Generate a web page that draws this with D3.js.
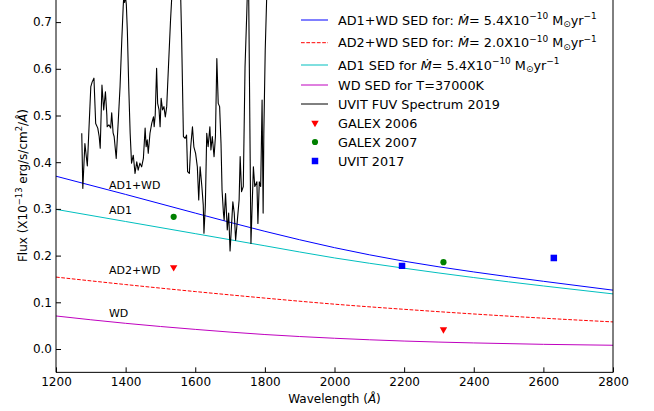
<!DOCTYPE html>
<html>
<head>
<meta charset="utf-8">
<script src="https://cdn.jsdelivr.net/npm/d3@7"></script>
<style>
  html, body { margin: 0; padding: 0; background: #fff; }
  svg { display: block; font-family: "DejaVu Sans", sans-serif; }
</style>
</head>
<body>
<svg id="chart" width="654" height="411"></svg>
<script>
// ---------------- DATA ----------------
const modelWave = [1200, 1400, 1600, 1800, 2000, 2200, 2400, 2600, 2800];
const ad1wdFlux = [0.370, 0.331, 0.291, 0.252, 0.217, 0.188, 0.165, 0.145, 0.126];
const ad2wdFlux = [0.154, 0.138, 0.123, 0.109, 0.096, 0.085, 0.075, 0.066, 0.058];
const ad1Flux   = [0.299, 0.273, 0.247, 0.221, 0.195, 0.173, 0.153, 0.135, 0.118];
const wdFlux    = [0.0707, 0.055, 0.042, 0.031, 0.023, 0.017, 0.013, 0.010, 0.008];

const specWave = [1274,1277,1283,1290,1300,1304,1309,1314,1320,1324,1327,1332,1337,1342,1346,1347,1352,1357,1360,1364,1367,1373,1379,1384,1389,1393,1395,1397,1399,1402,1405,1409,1413,1417,1422,1427,1432,1436,1441,1446,1451,1456,1459,1462,1465,1470,1475,1480,1482,1485,1489,1492,1496,1499,1502,1506,1510,1514,1518,1523,1529,1533,1545,1558,1561,1566,1571,1575,1578,1583,1587,1592,1596,1601,1606,1610,1614,1619,1623,1625,1629,1633,1637,1642,1645,1649,1654,1658,1662,1666,1670,1674,1677,1681,1683,1687,1692,1696,1700,1704,1708,1712,1716,1721,1726,1729,1733,1738,1743,1748,1751,1753,1760,1767,1771,1777,1780,1784,1788,1792,1795,1797,1801,1805,1808];
const specFlux = [0.462,0.344,0.440,0.392,0.562,0.572,0.580,0.483,0.473,0.455,0.430,0.565,0.512,0.551,0.501,0.476,0.480,0.473,0.506,0.463,0.455,0.408,0.490,0.562,0.662,0.733,0.760,0.742,0.758,0.738,0.680,0.560,0.462,0.398,0.415,0.376,0.401,0.383,0.398,0.390,0.408,0.473,0.433,0.448,0.419,0.462,0.483,0.497,0.476,0.501,0.601,0.526,0.512,0.476,0.537,0.512,0.519,0.497,0.519,0.604,0.704,0.760,0.950,0.760,0.662,0.455,0.451,0.458,0.380,0.376,0.433,0.476,0.433,0.419,0.390,0.319,0.390,0.348,0.308,0.248,0.308,0.462,0.433,0.476,0.426,0.455,0.412,0.455,0.622,0.526,0.519,0.440,0.340,0.291,0.276,0.333,0.255,0.291,0.210,0.262,0.315,0.291,0.233,0.276,0.319,0.412,0.337,0.348,0.604,0.719,0.800,0.800,0.226,0.390,0.348,0.358,0.269,0.358,0.348,0.533,0.291,0.462,0.640,0.747,0.800];

const galex2006Wave = [1538, 2313];
const galex2006Flux = [0.175, 0.042];
const galex2007Wave = [1538, 2313];
const galex2007Flux = [0.283, 0.186];
const uvit2017Wave  = [2194, 2630];
const uvit2017Flux  = [0.178, 0.195];

const xTicks = [1200, 1400, 1600, 1800, 2000, 2200, 2400, 2600, 2800];
const yTicks = [0.0, 0.1, 0.2, 0.3, 0.4, 0.5, 0.6, 0.7];

const curveLabels = ["AD1+WD", "AD1", "AD2+WD", "WD"];
const curveLabelWave = [1352, 1352, 1352, 1352];
const curveLabelFlux = [0.343, 0.289, 0.160, 0.068];

// ---------------- LAYOUT ----------------
const svg = d3.select("#chart");
const L = 56, R = 613, B = 372.35, T = -1.25;
const x = d3.scaleLinear().domain([1200, 2800]).range([L, R]);
const y = d3.scaleLinear().domain([-0.05, 0.75]).range([B, T]);

svg.append("defs").append("clipPath").attr("id", "clip")
  .append("rect").attr("x", L).attr("y", -5).attr("width", R - L).attr("height", B + 5);

const plot = svg.append("g").attr("clip-path", "url(#clip)");

const line = d3.line().x(d => x(d[0])).y(d => y(d[1]));
const smooth = d3.line().x(d => x(d[0])).y(d => y(d[1])).curve(d3.curveMonotoneX);

const series = [
  {vals: ad1wdFlux, color: "#0000ff", dash: null},
  {vals: ad2wdFlux, color: "#ff0000", dash: "3.7,1.6"},
  {vals: ad1Flux,   color: "#00bfbf", dash: null},
  {vals: wdFlux,    color: "#bf00bf", dash: null}
];
series.forEach(s => {
  plot.append("path")
    .datum(modelWave.map((w, i) => [w, s.vals[i]]))
    .attr("d", smooth)
    .attr("fill", "none")
    .attr("stroke", s.color)
    .attr("stroke-width", 1)
    .attr("stroke-dasharray", s.dash);
});

plot.append("path")
  .datum(specWave.map((w, i) => [w, specFlux[i]]))
  .attr("d", line)
  .attr("fill", "none")
  .attr("stroke", "#000")
  .attr("stroke-width", 1.1)
  .attr("stroke-linejoin", "round");

// markers
const triDown = d3.symbol().type(d3.symbolTriangle).size(24);
const circ = d3.symbol().type(d3.symbolCircle).size(30);
const sq = d3.symbol().type(d3.symbolSquare).size(42);

galex2006Wave.forEach((w, i) => {
  plot.append("path").attr("d", triDown())
    .attr("transform", `translate(${x(w)},${y(galex2006Flux[i])}) rotate(180)`)
    .attr("fill", "#ff0000");
});
galex2007Wave.forEach((w, i) => {
  plot.append("path").attr("d", circ())
    .attr("transform", `translate(${x(w)},${y(galex2007Flux[i])})`)
    .attr("fill", "#008000");
});
uvit2017Wave.forEach((w, i) => {
  plot.append("path").attr("d", sq())
    .attr("transform", `translate(${x(w)},${y(uvit2017Flux[i])})`)
    .attr("fill", "#0000ff");
});

// curve labels
curveLabels.forEach((t, i) => {
  svg.append("text").attr("x", x(curveLabelWave[i])).attr("y", y(curveLabelFlux[i]))
    .attr("font-size", 11).attr("fill", "#000").text(t);
});

// ---------------- AXES ----------------
const xAxis = d3.axisBottom(x).tickValues(xTicks).tickSize(-5).tickPadding(5).tickFormat(d3.format("d"));
const gx = svg.append("g").attr("transform", `translate(0,${B})`).call(xAxis);
gx.select(".domain").remove();
gx.selectAll("text").attr("font-size", 12).attr("font-family", "DejaVu Sans").attr("fill", "#000");
gx.selectAll("line").attr("stroke", "#000");

const yAxis = d3.axisLeft(y).tickValues(yTicks).tickSize(-5).tickPadding(4).tickFormat(d3.format(".1f"));
const gy = svg.append("g").attr("transform", `translate(${L},0)`).call(yAxis);
gy.select(".domain").remove();
gy.selectAll("text").attr("font-size", 12).attr("font-family", "DejaVu Sans").attr("fill", "#000");
gy.selectAll("line").attr("stroke", "#000");

// spines
svg.append("line").attr("x1", L).attr("x2", L).attr("y1", T - 2).attr("y2", B).attr("stroke", "#000").attr("stroke-width", 1);
svg.append("line").attr("x1", R).attr("x2", R).attr("y1", T - 2).attr("y2", B).attr("stroke", "#000").attr("stroke-width", 1);
svg.append("line").attr("x1", L).attr("x2", R).attr("y1", B).attr("y2", B).attr("stroke", "#000").attr("stroke-width", 1);

// rich text helper: shifts are carried over to the next visible tspan
function rich(sel, parts, fs) {
  let cur = 0;
  parts.forEach(p => {
    let target = 0, size = fs;
    if (p.sup) { target = -fs * 0.42; size = fs * 0.7; }
    else if (p.sub) { target = fs * 0.2; size = fs * 0.7; }
    const t = sel.append("tspan").attr("font-size", size).attr("dy", target - cur).text(p.t);
    if (p.it) t.attr("font-style", "italic");
    cur = target;
  });
}

// axis titles
const xl = svg.append("text").attr("x", (L + R) / 2).attr("y", 403).attr("text-anchor", "middle").attr("fill", "#000").attr("font-size", 12);
rich(xl, [{t: "Wavelength ("}, {t: "Å", it: true}, {t: ")"}], 12);

const yl = svg.append("text").attr("transform", `translate(27,${(B + T) / 2}) rotate(-90)`).attr("text-anchor", "middle").attr("fill", "#000").attr("font-size", 12);
rich(yl, [{t: "Flux (X10"}, {t: "\u221213", sup: true}, {t: " erg/s/cm"}, {t: "2", sup: true}, {t: "/"}, {t: "Å", it: true}, {t: ")"}], 12);

// ---------------- LEGEND ----------------
const legFs = 12.8;
const legRows = [
  {y: 20, type: "line", color: "#0000ff", parts: [{t: "AD1+WD SED for: "}, {t: "Ṁ", it: true}, {t: "= 5.4X10"}, {t: "\u221210", sup: true}, {t: " M"}, {t: "\u2299", sub: true}, {t: "yr"}, {t: "\u22121", sup: true}]},
  {y: 42.7, type: "line", color: "#ff0000", dash: "3.7,1.6", parts: [{t: "AD2+WD SED for: "}, {t: "Ṁ", it: true}, {t: "= 2.0X10"}, {t: "\u221210", sup: true}, {t: " M"}, {t: "\u2299", sub: true}, {t: "yr"}, {t: "\u22121", sup: true}]},
  {y: 65, type: "line", color: "#00bfbf", parts: [{t: "AD1 SED for "}, {t: "Ṁ", it: true}, {t: "= 5.4X10"}, {t: "\u221210", sup: true}, {t: " M"}, {t: "\u2299", sub: true}, {t: "yr"}, {t: "\u22121", sup: true}]},
  {y: 85, type: "line", color: "#bf00bf", parts: [{t: "WD SED for T=37000K"}]},
  {y: 104, type: "line", color: "#000", parts: [{t: "UVIT FUV Spectrum 2019"}]},
  {y: 123, type: "tri", color: "#ff0000", parts: [{t: "GALEX 2006"}]},
  {y: 142, type: "circ", color: "#008000", parts: [{t: "GALEX 2007"}]},
  {y: 161, type: "sq", color: "#0000ff", parts: [{t: "UVIT 2017"}]}
];
const leg = svg.append("g");
legRows.forEach(r => {
  if (r.type === "line") {
    leg.append("line").attr("x1", 301).attr("x2", 328).attr("y1", r.y).attr("y2", r.y)
      .attr("stroke", r.color).attr("stroke-width", 1).attr("stroke-dasharray", r.dash || null);
  } else if (r.type === "tri") {
    leg.append("path").attr("d", triDown()).attr("transform", `translate(315,${r.y}) rotate(180)`).attr("fill", r.color);
  } else if (r.type === "circ") {
    leg.append("path").attr("d", circ()).attr("transform", `translate(315,${r.y})`).attr("fill", r.color);
  } else {
    leg.append("path").attr("d", sq()).attr("transform", `translate(315,${r.y})`).attr("fill", r.color);
  }
  const t = leg.append("text").attr("x", 338).attr("y", r.y + 4.6).attr("fill", "#000").attr("font-size", legFs);
  rich(t, r.parts, legFs);
});
</script>
</body>
</html>
